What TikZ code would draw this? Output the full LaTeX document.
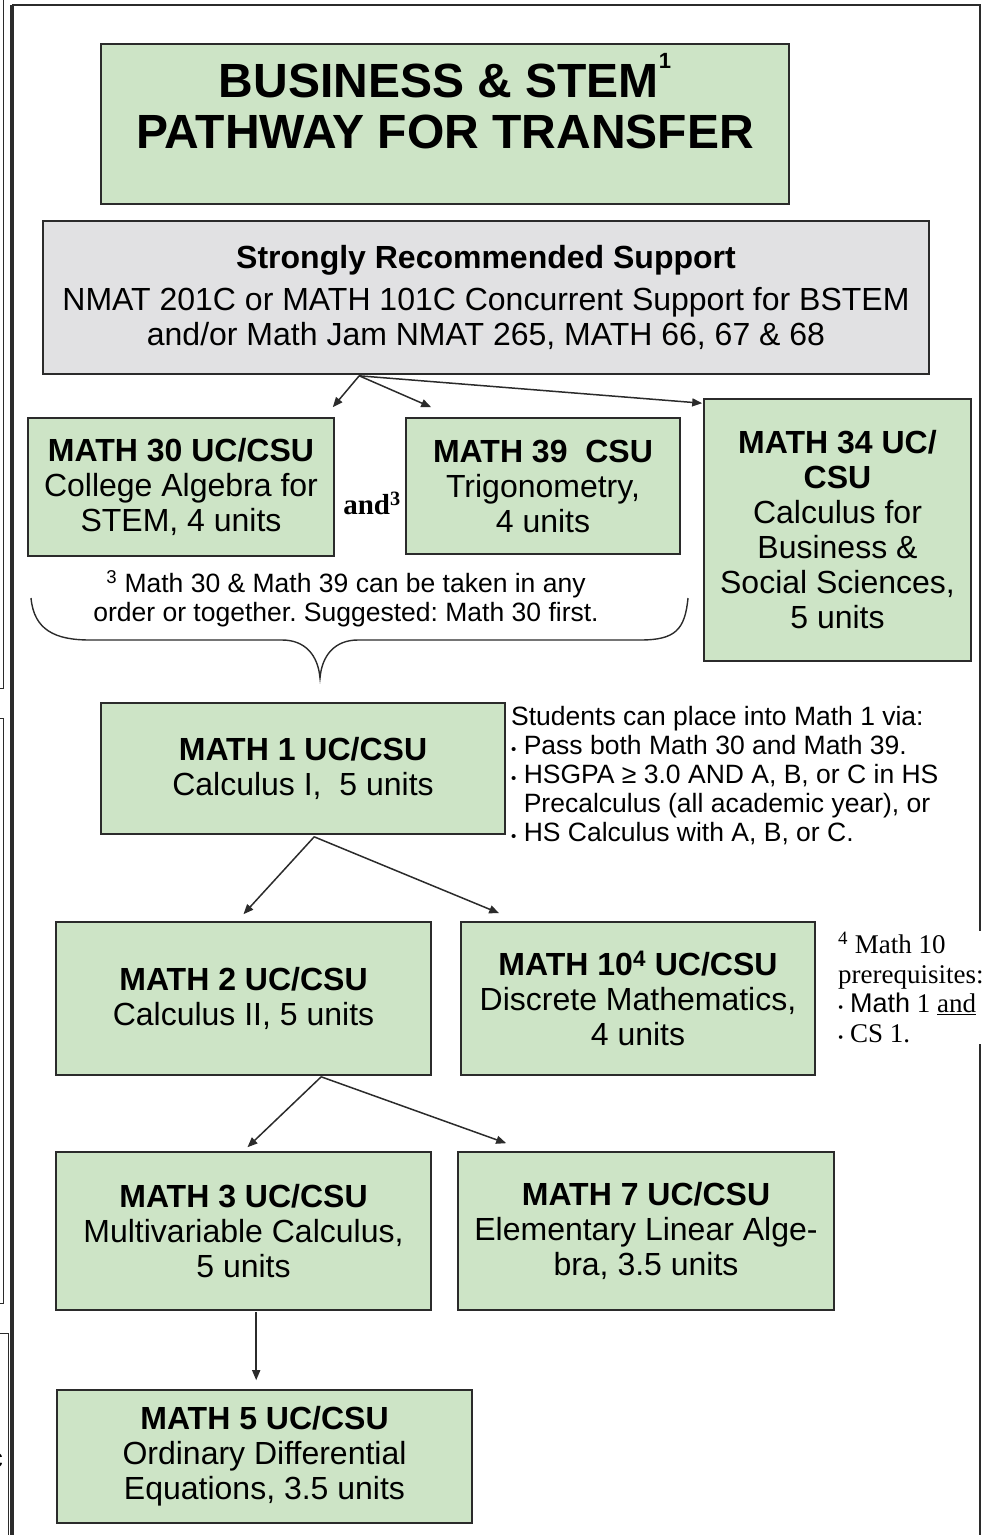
\documentclass[tikz,border=0pt]{standalone}
\usepackage{fontspec}
\setmainfont{Liberation Sans}
\newfontfamily\tnr{Liberation Serif}
\usepackage{tikz}
\usetikzlibrary{arrows.meta,calc}
\usepackage{xcolor}
\definecolor{stemgreen}{HTML}{CDE4C6}
\definecolor{supgray}{HTML}{E1E1E3}
\definecolor{edge}{HTML}{2B2B2B}
\newcommand{\bul}{{\fontsize{15}{15}\selectfont\textbullet}}
\newcommand{\upnum}[1]{\raisebox{0.6em}{\fontsize{22}{22}\selectfont #1}}
\frenchspacing

\begin{document}
\begin{tikzpicture}[x=1pt, y=-1pt,
      crs/.style={draw=edge, line width=1.6pt, fill=stemgreen, align=center,
                  font=\fontsize{32}{35}\selectfont, inner sep=2pt},
      arr/.style={-{Triangle[length=10pt, width=8pt]}, line width=1.5pt, edge},
      note/.style={font=\fontsize{26.5}{29}\selectfont, align=center, inner sep=0pt},
      frm/.style={line width=1.3pt, edge}
    ]
      \useasboundingbox (0,0) rectangle (987,1535);

      \draw[frm] (13,5) rectangle (980,1560);
      \draw[frm] (11,5) -- (11,1560);
      \draw[frm, line width=1pt] (0,688) -- (3.5,688) -- (3.5,-2);
      \draw[frm, line width=1pt] (0,718) -- (3.5,718) -- (3.5,1303) -- (0,1303);
      \draw[frm, line width=1pt] (0,1333) -- (8,1333) -- (8,1560);
      \node[note, anchor=east] (cut) at (3,1460) {c};

      \node[crs, minimum width=688, minimum height=160,
            label={[font=\bfseries\fontsize{48}{51}\selectfont, align=center, yshift=23pt]center:
            BUSINESS \& STEM\upnum{1}\\PATHWAY FOR TRANSFER}] (title) at (445,124) {};

      \node[crs, fill=supgray, minimum width=886, minimum height=153] (supp) at (486,297.5)
           {\textbf{Strongly Recommended Support}\\[7pt]
            NMAT 201C or MATH 101C Concurrent Support for BSTEM\\
            and/or Math Jam NMAT 265, MATH 66, 67 \& 68};

      \node[crs, minimum width=306, minimum height=138] (m30) at (181,487)
           {\textbf{MATH 30 UC/CSU}\\College Algebra for\\STEM, 4 units};
      \node[crs, minimum width=274, minimum height=136] (m39) at (543,486)
           {\textbf{MATH 39\ \ CSU}\\Trigonometry,\\4 units};
      \node[crs, minimum width=267, minimum height=262] (m34) at (837.5,530)
           {\textbf{MATH 34 UC/}\\\textbf{CSU}\\Calculus for\\Business \&\\Social Sciences,\\5 units};
      \node[inner sep=0pt, font=\tnr\bfseries\fontsize{29}{29}\selectfont] (and) at (372,503)
           {and\textsuperscript{3}};

      \node[note] (fn3) at (346,599)
           {\textsuperscript{3} Math 30 \& Math 39 can be taken in any\\
            order or together. Suggested: Math 30 first.};
      \draw[edge, line width=1.4pt] (31,598) .. controls (34,630) and (55,640) .. (90,640)
           -- (282,640) .. controls (305,640) and (318,655) .. (320,678)
           .. controls (322,655) and (335,640) .. (358,640)
           -- (640,640) .. controls (675,640) and (685,630) .. (688,598);

      \node[crs, minimum width=404, minimum height=131] (m1) at (303,768.5)
           {\textbf{MATH 1 UC/CSU}\\Calculus I,\ \ 5 units};
      \node[note, align=left, anchor=north west] (place) at (511,706)
           {Students can place into Math 1 via:\\
            \bul{} Pass both Math 30 and Math 39.\\
            \bul{} HSGPA ≥ 3.0 AND A, B, or C in HS\\
            \hphantom{\bul{}} Precalculus (all academic year), or\\
            \bul{} HS Calculus with A, B, or C.};

      \node[crs, minimum width=375, minimum height=153] (m2) at (243.5,998.5)
           {\textbf{MATH 2 UC/CSU}\\Calculus II, 5 units};
      \node[crs, minimum width=354, minimum height=153] (m10) at (638,998.5)
           {\textbf{MATH 10\textsuperscript{4} UC/CSU}\\Discrete Mathematics,\\4 units};
      \node[note, align=left, anchor=north west, fill=white, inner sep=1pt,
            font=\tnr\fontsize{27}{29.5}\selectfont] (fn4) at (837,931)
           {\textsuperscript{4} Math 10\\prerequisites:\\
            \bul{} {\rmfamily Math} 1 \underline{and}\\
            \bul{} CS 1.};

      \node[crs, minimum width=375, minimum height=158] (m3) at (243.5,1231)
           {\textbf{MATH 3 UC/CSU}\\Multivariable Calculus,\\5 units};
      \node[crs, minimum width=376, minimum height=158] (m7) at (646,1231)
           {\textbf{MATH 7 UC/CSU}\\Elementary Linear Alge-\\bra, 3.5 units};
      \node[crs, minimum width=415, minimum height=133] (m5) at (264.5,1456.5)
           {\textbf{MATH 5 UC/CSU}\\Ordinary Differential\\Equations, 3.5 units};

      \coordinate (fk0) at ($(supp.south west)+(317,1)$);
      \coordinate (fk1) at ($(m1.south west)+(214,2)$);
      \coordinate (fk2) at ($(m2.south west)+(266,1)$);
      \coordinate (fk3) at ($(m3.south west)+(201,1)$);

      \draw[arr] (fk0) -- ($(m30.north east)+(-2,-10)$);
      \draw[arr] (fk0) -- ($(m39.north west)+(26,-10)$);
      \draw[arr] (fk0) -- ($(m34.north west)+(-1,5)$);
      \draw[arr] (fk1) -- ($(m2.north)+(0,-7)$);
      \draw[arr] (fk1) -- ($(m10.north west)+(39,-8)$);
      \draw[arr] (fk2) -- ($(m3.north)+(4,-4)$);
      \draw[arr] (fk2) -- ($(m7.north west)+(49,-8)$);
      \draw[arr] (fk3) -- (fk3 |- m5.north) [shorten >=9pt];
    \end{tikzpicture}
\end{document}
